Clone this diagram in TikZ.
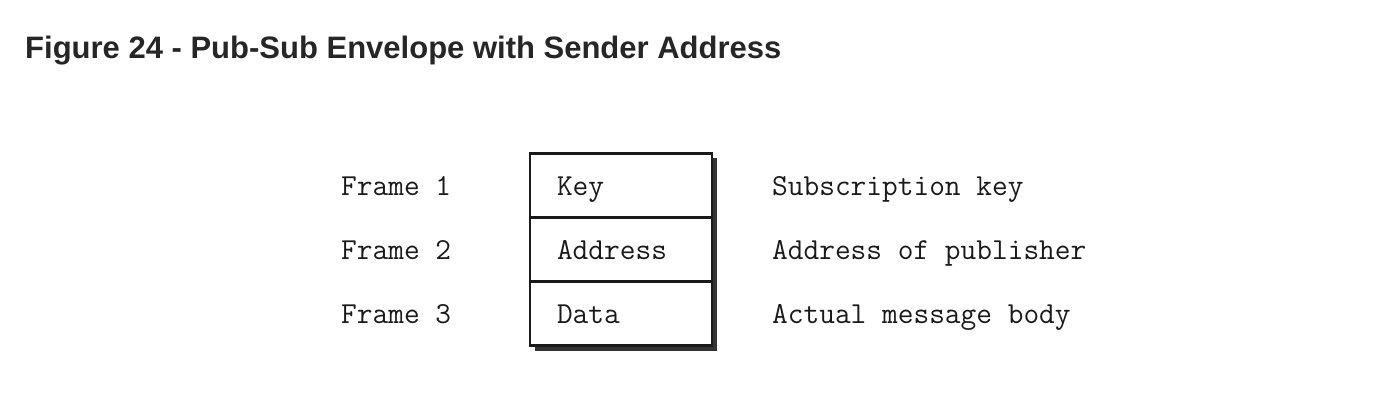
\documentclass[tikz,border=0pt]{standalone}
\usepackage{fontspec}
\setmainfont{Liberation Sans}
\usepackage{tikz}
\usetikzlibrary{positioning,fit,backgrounds}
\definecolor{envink}{HTML}{1A1A1A}
\definecolor{envtitle}{HTML}{262626}
\definecolor{envshade}{HTML}{333333}
\tikzset{
  framecell/.style={draw=envink,line width=2.4pt,fill=white,minimum width=182pt,
              minimum height=64pt,inner sep=0pt,outer sep=0pt,text width=128pt,align=left,
              text height=22pt,text depth=3pt,
              font=\fontsize{30.5}{34}\selectfont\ttfamily,text=envink},
  framelab/.style={anchor=base west,inner sep=0pt,font=\fontsize{30.5}{34}\selectfont\ttfamily,text=envink},
  figtitle/.style={anchor=base west,inner sep=0pt,font=\fontsize{31}{36}\selectfont\bfseries,text=envtitle},
}

\begin{document}
\begin{tikzpicture}[x=1pt,y=-1pt]
  \useasboundingbox (0,0) rectangle (1398,416);
  \node[figtitle] (title) at (25,58) {Figure 24 - Pub-Sub Envelope with Sender Address};

  % envelope frames
  \node[framecell] (key)  at (621,185.5) {Key};
  \node[framecell,below=0pt of key] (addr) {Address};
  \node[framecell,below=0pt of addr] (data) {Data};
  \node[fit=(key)(addr)(data),inner sep=0pt] (env) {};
  \begin{scope}[on background layer]
    \fill[envshade] ([shift={(5,5)}]env.north west) rectangle ([shift={(5,5)}]env.south east);
  \end{scope}

  % frame numbers
  \node[framelab] (f1) at ([shift={(-189,9.5)}]key.west)  {Frame 1};
  \node[framelab] (f2) at ([shift={(-189,9.5)}]addr.west) {Frame 2};
  \node[framelab] (f3) at ([shift={(-189,9.5)}]data.west) {Frame 3};

  % descriptions
  \node[framelab] (d1) at ([shift={(60,9.5)}]key.east)  {Subscription key};
  \node[framelab] (d2) at ([shift={(60,9.5)}]addr.east) {Address of publisher};
  \node[framelab] (d3) at ([shift={(60,9.5)}]data.east) {Actual message body};
\end{tikzpicture}
\end{document}
